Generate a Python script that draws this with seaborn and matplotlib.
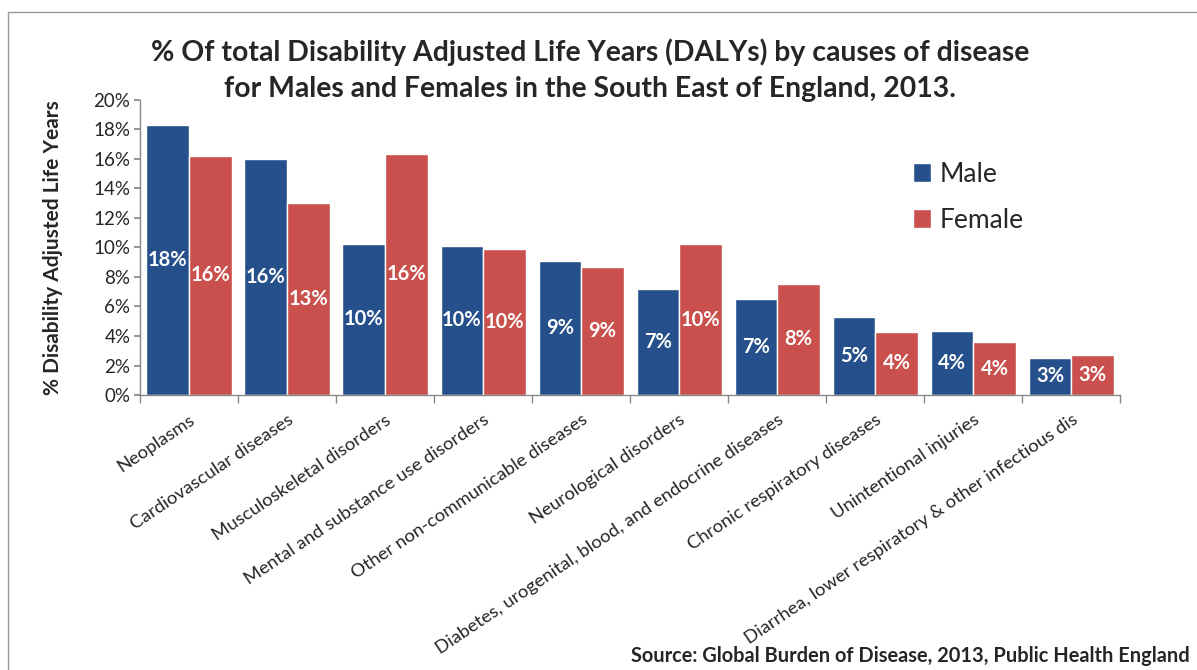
import pandas as pd
import seaborn as sns
import matplotlib.pyplot as plt
from matplotlib.patches import Rectangle, Patch
from matplotlib.ticker import PercentFormatter, FixedLocator

## the data (percent of total DALYs)
causes = ["Neoplasms", "Cardiovascular diseases", "Musculoskeletal disorders",
          "Mental and substance use disorders", "Other non-communicable diseases",
          "Neurological disorders", "Diabetes, urogenital, blood, and endocrine diseases",
          "Chronic respiratory diseases", "Unintentional injuries",
          "Diarrhea, lower respiratory & other infectious dis"]
male = [18.3, 15.97, 10.24, 10.1, 9.1, 7.17, 6.53, 5.27, 4.32, 2.52]
female = [16.22, 13.04, 16.34, 9.9, 8.66, 10.2, 7.53, 4.29, 3.59, 2.69]
yticks = [0, 2, 4, 6, 8, 10, 12, 14, 16, 18, 20]

blue = "#26508c"
red = "#c9504d"

df = pd.DataFrame({"cause": causes * 2,
                   "pct": male + female,
                   "sex": ["Male"] * len(causes) + ["Female"] * len(causes)})

sns.set_theme(style="white")
plt.rcParams['font.family'] = ['Lato', 'DejaVu Sans']

fig = plt.figure(figsize=(11.97, 6.7), dpi=100)
ax = fig.add_axes([0.117, 0.4104, 0.819, 0.4406])

sns.barplot(data=df, x="cause", y="pct", hue="sex", palette=[blue, red],
            width=0.87, saturation=1, ax=ax, legend=False)

# white percent labels in the middle of each bar
for cont in ax.containers:
    labs = ["%d%%" % round(v) for v in cont.datavalues]
    ax.bar_label(cont, labels=labs, label_type="center", color="white",
                 fontsize=14.5, fontweight="bold")

ax.set_ylim(0, 20)
ax.set_xlim(-0.5, len(causes) - 0.5)
ax.set_yticks(yticks)
ax.yaxis.set_major_formatter(PercentFormatter(decimals=0))
ax.tick_params(axis="y", labelsize=13.5, left=True, length=4, color="#888888", pad=3)
ax.set_xticks(range(len(causes)))
ax.set_xticklabels(causes, rotation=34, ha="right", rotation_mode="anchor",
                   fontsize=13.3)
ax.tick_params(axis="x", bottom=False, pad=6)
# excel-style tick marks between the categories
ax.xaxis.set_minor_locator(FixedLocator([i - 0.5 for i in range(len(causes) + 1)]))
ax.tick_params(axis="x", which="minor", bottom=True, length=6, color="#888888")

for s in ["top", "right"]:
    ax.spines[s].set_visible(False)
for s in ["left", "bottom"]:
    ax.spines[s].set_color("#888888")
    ax.spines[s].set_linewidth(1)

ax.set_xlabel("")
ax.set_ylabel("% Disability Adjusted Life Years", fontsize=15, fontweight="bold",
              labelpad=22)

handles = [Patch(facecolor=blue, label="Male"), Patch(facecolor=red, label="Female")]
ax.legend(handles=handles, loc="upper left", bbox_to_anchor=(0.775, 0.835),
          frameon=False, fontsize=19, handlelength=0.7, handleheight=0.7,
          handletextpad=0.3, labelspacing=0.8, borderpad=0)

fig.text(0.493, 0.895, "% Of total Disability Adjusted Life Years (DALYs) by causes of disease\n"
         "for Males and Females in the South East of England, 2013.",
         ha="center", va="center", fontsize=20.4, fontweight="bold", linespacing=1.45)

fig.text(0.994, 0.006, "Source: Global Burden of Disease, 2013, Public Health England",
         ha="right", va="bottom", fontsize=14.4, fontweight="bold")

# thin grey frame round the chart area
fig.patches.append(Rectangle((0.007, -0.01), 1.2, 0.992, transform=fig.transFigure,
                             fill=False, edgecolor="#999999", linewidth=1))

fig.savefig("out.png", dpi=100)
